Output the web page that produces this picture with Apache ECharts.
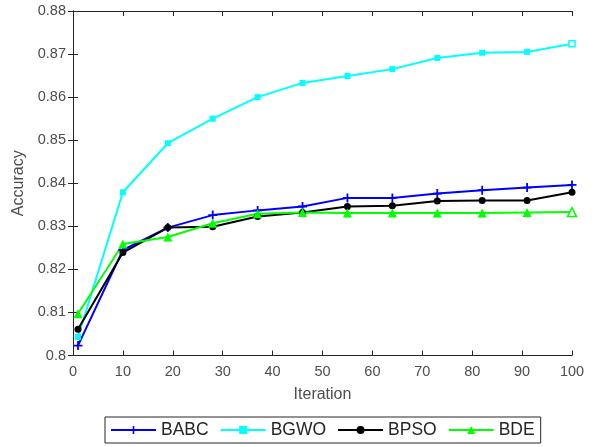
<!DOCTYPE html>
<html>
<head>
<meta charset="utf-8">
<script src="https://cdn.jsdelivr.net/npm/echarts@6/dist/echarts.min.js"></script>
<style>
  html, body { margin: 0; padding: 0; background: #fff; }
  #chart { width: 594px; height: 447px; }
</style>
</head>
<body>
<div id="chart"></div>
<script>
// Iteration checkpoints and accuracy per algorithm
const iterations = [1, 10, 19, 28, 37, 46, 55, 64, 73, 82, 91, 100];
const babc = [0.8023, 0.8245, 0.8297, 0.8326, 0.8337, 0.8346, 0.8366, 0.8366, 0.8376, 0.8384, 0.8390, 0.8396];
const bgwo = [0.8043, 0.8379, 0.8493, 0.8550, 0.8600, 0.8633, 0.8649, 0.8665, 0.8691, 0.8703, 0.8705, 0.8724];
const bpso = [0.8061, 0.8239, 0.8297, 0.8299, 0.8323, 0.8332, 0.8346, 0.8348, 0.8359, 0.8360, 0.8360, 0.8379];
const bde  = [0.8097, 0.8259, 0.8275, 0.8307, 0.8329, 0.8332, 0.8331, 0.8331, 0.8331, 0.8331, 0.8332, 0.8333];

const xTicks = { min: 0, max: 100, step: 10 };
const yTicks = { min: 0.80, max: 0.88, step: 0.01 };

const PLUS = 'path://M4,0 L6,0 L6,4 L10,4 L10,6 L6,6 L6,10 L4,10 L4,6 L0,6 L0,4 L4,4 Z';
const axisColor = '#262626';
const labelColor = '#4d4d4d';
const font = 'Liberation Sans, Arial, Helvetica, sans-serif';

// points whose markers are drawn open (white face, coloured edge)
function pairs(vals, color, openIdx) {
  return iterations.map((it, i) => {
    if (openIdx && openIdx.indexOf(i) >= 0) {
      return { value: [it, vals[i]], itemStyle: { color: '#ffffff', borderColor: color, borderWidth: 1.5 } };
    }
    return [it, vals[i]];
  });
}

function makeSeries(name, vals, color, symbol, size, openIdx) {
  return {
    name: name,
    type: 'line',
    data: pairs(vals, color, openIdx),
    symbol: symbol,
    symbolSize: size,
    showAllSymbol: true,
    lineStyle: { color: color, width: 2 },
    itemStyle: { color: color, borderColor: color, borderWidth: 0 },
    emphasis: { disabled: true },
    animation: false,
    clip: false
  };
}

const baseAxisLine = { show: true, lineStyle: { color: axisColor, width: 1 } };
const tickInside = { show: true, inside: true, length: 5, lineStyle: { color: axisColor } };

const chart = echarts.init(document.getElementById('chart'), null, { renderer: 'canvas' });
chart.setOption({
  backgroundColor: '#ffffff',
  textStyle: { fontFamily: font },
  grid: { left: 73, right: 22, top: 11, bottom: 91.5, containLabel: false },
  xAxis: [
    {
      type: 'value', min: xTicks.min, max: xTicks.max, interval: xTicks.step,
      name: 'Iteration', nameLocation: 'middle', nameGap: 31,
      nameTextStyle: { color: labelColor, fontSize: 16, fontFamily: font },
      axisLine: baseAxisLine, axisTick: tickInside,
      axisLabel: { color: labelColor, fontSize: 14.5, margin: 9, fontFamily: font },
      splitLine: { show: false }
    },
    {
      type: 'value', position: 'top', min: xTicks.min, max: xTicks.max, interval: xTicks.step,
      axisLine: baseAxisLine, axisTick: tickInside,
      axisLabel: { show: false }, splitLine: { show: false }
    }
  ],
  yAxis: [
    {
      type: 'value', min: yTicks.min, max: yTicks.max, interval: yTicks.step,
      name: 'Accuracy', nameLocation: 'middle', nameGap: 45,
      nameTextStyle: { color: labelColor, fontSize: 16, fontFamily: font },
      axisLine: baseAxisLine, axisTick: tickInside,
      axisLabel: {
        color: labelColor, fontSize: 14.5, margin: 7, fontFamily: font,
        formatter: v => String(parseFloat(v.toFixed(2)))
      },
      splitLine: { show: false }
    },
    {
      type: 'value', position: 'right', min: yTicks.min, max: yTicks.max, interval: yTicks.step,
      axisLine: baseAxisLine, axisTick: tickInside,
      axisLabel: { show: false }, splitLine: { show: false }
    }
  ],
  legend: {
    left: 105, top: 417,
    orient: 'horizontal',
    itemWidth: 45, itemHeight: 10, itemGap: 11,
    padding: [4, 6, 4, 5],
    borderColor: '#262626', borderWidth: 1,
    backgroundColor: '#ffffff',
    textStyle: { color: '#262626', fontSize: 17.5, fontFamily: font },
    data: ['BABC', 'BGWO', 'BPSO', 'BDE']
  },
  series: [
    makeSeries('BABC', babc, '#0000ff', PLUS, 9),
    makeSeries('BGWO', bgwo, '#00ffff', 'rect', 6, [11]),
    makeSeries('BPSO', bpso, '#000000', 'circle', 7),
    makeSeries('BDE', bde, '#00ff00', 'triangle', 9, [11])
  ]
});
</script>
</body>
</html>
